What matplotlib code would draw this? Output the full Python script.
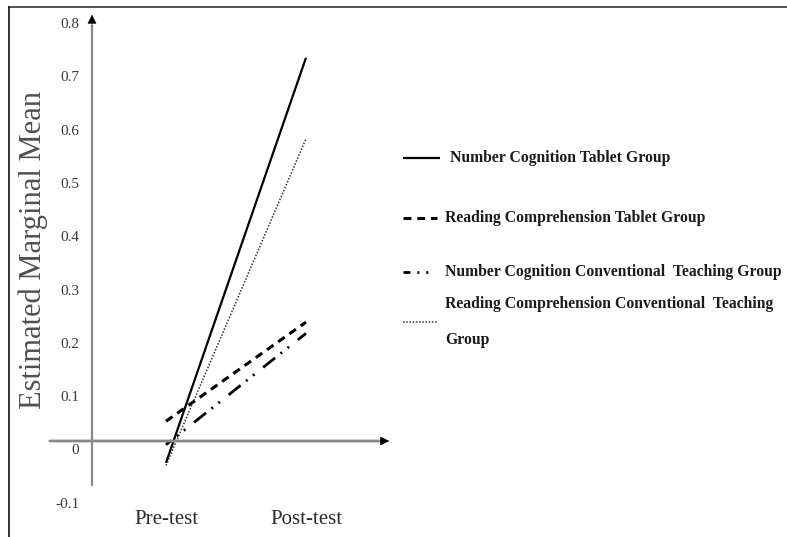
import matplotlib
matplotlib.use("Agg")
import matplotlib.pyplot as plt
from matplotlib.lines import Line2D

plt.rcParams['font.family'] = ['Liberation Serif', 'DejaVu Serif']

# data
groups = ["Number Cognition Tablet Group",
          "Reading Comprehension Tablet Group",
          "Number Cognition Conventional  Teaching Group",
          "Reading Comprehension Conventional  Teaching\nGroup"]
times = ["Pre-test", "Post-test"]
pre_test = [-0.025, 0.053, 0.009, -0.030]
post_test = [0.735, 0.239, 0.218, 0.583]
y_ticks = [-0.1, 0, 0.1, 0.2, 0.3, 0.4, 0.5, 0.6, 0.7, 0.8]
y_labels = ["-0.1", "0", "0.1", "0.2", "0.3", "0.4", "0.5", "0.6", "0.7", "0.8"]

styles = [
    dict(color='black', lw=1.6, linestyle='-'),
    dict(color='black', lw=2.2, linestyle=(0, (2.6, 1.9))),
    dict(color='black', lw=2.0, linestyle=(3, (5.5, 2.5, 0.7, 2.5, 0.7, 4.0))),
    dict(color='#333333', lw=1.1, linestyle=(0, (1.0, 1.1))),
]

W, H = 787, 537
fig = plt.figure(figsize=(W / 100, H / 100), dpi=100)

# axes placed in pixels: left 92, right 392, top 10, bottom 510
ax = fig.add_axes([92 / W, (H - 510) / H, 300 / W, 500 / H])
xlo, xhi = 1 - 74 / 140, 2 + 86 / 140
ylo, yhi = (449.5 - 510) / 533, (449.5 - 10) / 533
ax.set_xlim(xlo, xhi)
ax.set_ylim(ylo, yhi)
for s in ax.spines.values():
    s.set_visible(False)

x = [1, 2]
for i, g in enumerate(groups):
    ax.plot(x, [pre_test[i], post_test[i]], solid_capstyle='butt',
            dash_capstyle='butt', **styles[i])

# hand-drawn looking axes with arrows
x_axis_y = 8.5 / 533
ax.annotate('', xy=(xhi - 0.03, x_axis_y), xytext=(1 - 119 / 140, x_axis_y),
            arrowprops=dict(arrowstyle='-', color='#888888', lw=2),
            annotation_clip=False)
ax.annotate('', xy=(xhi, x_axis_y), xytext=(xhi - 0.06, x_axis_y),
            arrowprops=dict(arrowstyle='-|>', color='black', lw=0.5,
                            mutation_scale=14), annotation_clip=False)
ax.annotate('', xy=(xlo, 0.80), xytext=(xlo, -0.072),
            arrowprops=dict(arrowstyle='-', color='#888888', lw=1.6),
            annotation_clip=False)
ax.annotate('', xy=(xlo, 0.821), xytext=(xlo, 0.79),
            arrowprops=dict(arrowstyle='-|>', color='black', lw=0.5,
                            mutation_scale=14), annotation_clip=False)

ax.set_yticks(y_ticks)
ax.set_yticklabels(y_labels)
ax.set_xticks(x)
ax.set_xticklabels(times)
ax.tick_params(axis='y', length=0, pad=9, labelsize=11, labelcolor='#3a3a3a')
ax.tick_params(axis='x', length=0, pad=0, labelsize=15, labelcolor='#2a2a2a')

fig.text(33 / W, 1 - 250 / H, "Estimated Marginal Mean", rotation=90,
         ha='center', va='center', fontsize=22, color='#505050')

# legend drawn at the right
leg_y = [158, 218, 272, 322]
leg_x0 = [403, 403, 403, 403]
leg_x1 = [440, 437, 437, 437]
text_x = [450, 445, 445, 445]
for i, g in enumerate(groups):
    yy = 1 - leg_y[i] / H
    fig.add_artist(Line2D([leg_x0[i] / W, leg_x1[i] / W], [yy, yy],
                          transform=fig.transFigure, solid_capstyle='butt',
                          dash_capstyle='butt', **styles[i]))
    fig.text(text_x[i] / W, yy, g, ha='left', va='center', fontsize=11.3,
             fontweight='bold', color='#1a1a1a', linespacing=2.75)

# frame lines of the original picture (top and left only)
fig.add_artist(Line2D([9 / W, 1], [1 - 7 / H, 1 - 7 / H],
                      transform=fig.transFigure, color='#333333', lw=1.2))
fig.add_artist(Line2D([9 / W, 9 / W], [0, 1 - 7 / H],
                      transform=fig.transFigure, color='#111111', lw=1.2))

fig.savefig("out.png", dpi=100)
